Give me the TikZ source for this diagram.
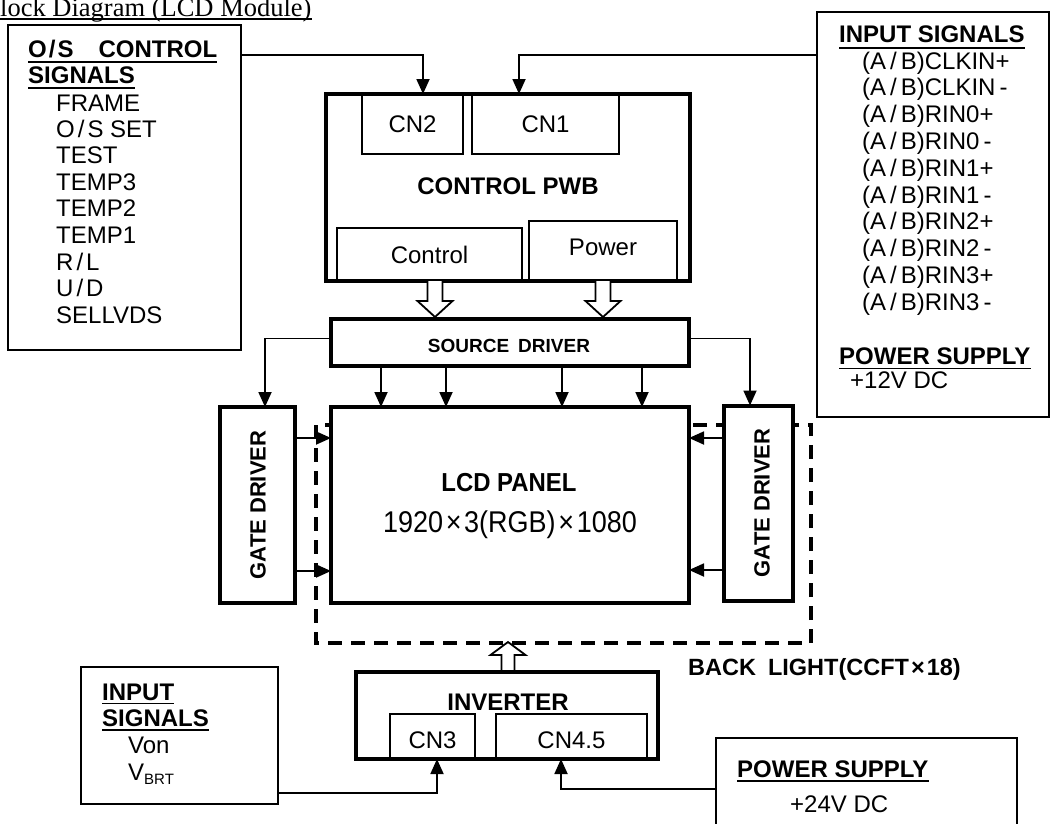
\documentclass[tikz,border=0pt]{standalone}
\usepackage{fontspec}
\setmainfont{Liberation Sans}
\newfontfamily\serifttl{Liberation Serif}
\usetikzlibrary{arrows.meta,calc}
\newcommand\fsz[1]{\fontsize{#1pt}{#1pt}\selectfont}
\newcommand\slsp{\hspace{3pt}/\hspace{3pt}}
\newcommand\abpre{(A\hspace{4pt}/\hspace{4pt}B)}
\begin{document}
\begin{tikzpicture}[x=1pt,y=-1pt,
  thinbox/.style={draw, line width=1.8pt, inner sep=0, outer sep=0},
  thickbox/.style={draw, line width=4pt, inner sep=0, outer sep=0, fill=white},
  conn/.style={line width=1.8pt, -{Triangle[length=15pt,width=13pt]}},
  lbl/.style={inner sep=0, anchor=base west, font=\fsz{24}},
  blbl/.style={inner sep=0, anchor=base west, font=\fsz{24}\bfseries},
  ctext/.style={inner sep=0, font=\fsz{24}},
  ul/.style={line width=1.6pt},
  hollow/.style={draw, line width=1.8pt, fill=white, line join=miter},
  backlight/.style={draw, line width=3.5pt, dash pattern=on 14pt off 9pt}]
\useasboundingbox (0,0) rectangle (1051,823);

% title
\node[inner sep=0, anchor=base west, font=\serifttl\fsz{26.5}] (title) at (0,16) {lock Diagram (LCD Module)};
\draw[line width=1.4pt] ([yshift=-3pt]title.base west) -- ([yshift=-3pt]title.base east);

% helper coordinates
\coordinate (yA) at (0,55);
\coordinate (yB) at (0,338.5);
\coordinate (yC) at (0,793);
\coordinate (yD) at (0,789);

% O/S control signals box
\node[thinbox, minimum width=233, minimum height=325] (os) at (124.5,187.5) {};
\node[blbl] (osh1) at (28,57) {O\hspace{2pt}/\hspace{2pt}S\hspace{25pt}CONTROL};
\draw[ul] ([yshift=-5pt]osh1.base west) -- ([yshift=-5pt]osh1.base east);
\node[blbl] (osh2) at (28,83) {SIGNALS};
\draw[ul] ([yshift=-5pt]osh2.base west) -- ([yshift=-5pt]osh2.base east);
\node[lbl] (os1) at (56,111) {FRAME};
\node[lbl] (os2) at (56,137) {O\slsp S SET};
\node[lbl] (os3) at (56,163.5) {TEST};
\node[lbl] (os4) at (56,190) {TEMP3};
\node[lbl] (os5) at (56,216.5) {TEMP2};
\node[lbl] (os6) at (56,243) {TEMP1};
\node[lbl] (os7) at (56,270) {R\slsp L};
\node[lbl] (os8) at (56,296.5) {U\slsp D};
\node[lbl] (os9) at (56,323) {SELLVDS};

% input signals box (right)
\node[thinbox, minimum width=232, minimum height=405] (inp) at (933,214.5) {};
\node[blbl] (inh) at (839,42) {INPUT SIGNALS};
\draw[ul] ([yshift=-6pt]inh.base west) -- ([yshift=-6pt]inh.base east);
\node[lbl] (in1) at (862,69) {\abpre CLKIN+};
\node[lbl] (in2) at (862,95.8) {\abpre CLKIN\,-};
\node[lbl] (in3) at (862,122.6) {\abpre RIN0+};
\node[lbl] (in4) at (862,149.4) {\abpre RIN0\,-};
\node[lbl] (in5) at (862,176.2) {\abpre RIN1+};
\node[lbl] (in6) at (862,203) {\abpre RIN1\,-};
\node[lbl] (in7) at (862,229.8) {\abpre RIN2+};
\node[lbl] (in8) at (862,256.6) {\abpre RIN2\,-};
\node[lbl] (in9) at (862,283.4) {\abpre RIN3+};
\node[lbl] (in10) at (862,310.2) {\abpre RIN3\,-};
\node[blbl] (psh) at (839,364) {POWER SUPPLY};
\draw[ul] ([yshift=-4.5pt]psh.base west) -- ([yshift=-4.5pt]psh.base east);
\node[lbl] (ps12) at (850,388) {+12V DC};

% control PWB
\node[thickbox, minimum width=364, minimum height=187] (pwb) at (508,187.5) {};
\node[thinbox, minimum width=101, minimum height=60] (cn2) at (412.5,124) {};
\node[ctext] (cn2t) at (412.5,124) {CN2};
\node[thinbox, minimum width=147, minimum height=60] (cn1) at (545.5,124) {};
\node[ctext] (cn1t) at (545.5,124) {CN1};
\node[ctext, font=\fsz{24}\bfseries] (pwbt) at (508,186) {CONTROL PWB};
\node[thinbox, minimum width=185, minimum height=53] (ctrl) at (429.5,254.5) {};
\node[ctext] (ctrlt) at (429.5,255) {Control};
\node[thinbox, minimum width=148, minimum height=60] (pwr) at (603,251) {};
\node[ctext] (pwrt) at (603,247) {Power};
\draw[line width=4pt] (pwb.south west) -- (pwb.south east);

% connectors into CN2 / CN1
\draw[conn] (os.east |- yA) -| ([xshift=10.5pt]cn2.north);
\draw[conn] (inp.west |- yA) -| ([xshift=-26.5pt]cn1.north);

% hollow arrows control/power -> source driver
\draw[hollow] (427.5,281) -- (427.5,301) -- (417.5,301) -- (435,317) -- (452.5,301) -- (442.5,301) -- (442.5,281);
\draw[hollow] (595.5,281) -- (595.5,301) -- (585.5,301) -- (603,317) -- (620.5,301) -- (610.5,301) -- (610.5,281);

% back light (dashed) behind panel
\draw[backlight] (316,425) rectangle (811,643);

% source driver
\node[thickbox, minimum width=358, minimum height=47] (src) at (510,342) {};
\node[inner sep=0, font=\fsz{19}\bfseries] (srct) at (509,346) {SOURCE\hspace{9pt}DRIVER};

% gate drivers and LCD
\node[thickbox, minimum width=75.5, minimum height=196] (gl) at (257.25,505) {};
\node[inner sep=0, rotate=90, font=\fsz{22}\bfseries] (glt) at (258,505) {GATE DRIVER};
\node[thickbox, minimum width=69, minimum height=195] (gr) at (758,503) {};
\node[inner sep=0, rotate=90, font=\fsz{22}\bfseries] (grt) at (762,503) {GATE DRIVER};
\node[thickbox, minimum width=358, minimum height=196] (lcd) at (510,505) {};
\node[inner sep=0, xscale=0.92, font=\fsz{26}\bfseries] (lcdt1) at (509,483) {LCD PANEL};
\node[inner sep=0, xscale=0.9, font=\fsz{30}] (lcdt2) at (510,525) {1920\hspace{3pt}×\hspace{3pt}3(RGB)\hspace{3pt}×\hspace{3pt}1080};

% source driver connections
\draw[conn] (src.west |- yB) -| ([xshift=7.75pt]gl.north);
\draw[conn] (src.east |- yB) -| ([xshift=-8pt]gr.north);
\foreach \d in {-129,-64,52,132}
  \draw[conn] ([xshift=\d pt]src.south) -- ([xshift=\d pt]lcd.north);

% gate -> panel
\draw[conn] ([yshift=67pt]gl.east) -- ([yshift=67pt]gl.east -| lcd.west);
\draw[conn] ([yshift=-66pt]gl.east) -- ([yshift=-66pt]gl.east -| lcd.west);
\draw[conn] ([yshift=65pt]gr.west) -- ([yshift=65pt]gr.west -| lcd.east);
\draw[conn] ([yshift=-67pt]gr.west) -- ([yshift=-67pt]gr.west -| lcd.east);

% back light label
\node[inner sep=0, anchor=base west, font=\fsz{23.5}\bfseries] (blt) at (688,675) {BACK\hspace{12pt}LIGHT(CCFT\hspace{2pt}×\hspace{2pt}18)};

% inverter
\draw[hollow] (501.5,672) -- (501.5,655) -- (490.5,655) -- (508,642) -- (525.5,655) -- (514.5,655) -- (514.5,672);
\node[thickbox, minimum width=302, minimum height=87] (inv) at (507,715.5) {};
\node[ctext, font=\fsz{24}\bfseries] (invt) at (508,702) {INVERTER};
\node[thinbox, minimum width=85, minimum height=45] (cn3) at (432.5,736.5) {};
\node[ctext] (cn3t) at (432.5,740) {CN3};
\node[thinbox, minimum width=151, minimum height=45] (cn45) at (571.5,736.5) {};
\node[ctext] (cn45t) at (571.5,740) {CN4.5};
\draw[line width=4pt] (inv.south west) -- (inv.south east);

% input signals (bottom left)
\node[thinbox, minimum width=197, minimum height=137] (inl) at (179.5,735.5) {};
\node[blbl] (ilh1) at (102,700) {INPUT};
\draw[ul] ([yshift=-3.5pt]ilh1.base west) -- ([yshift=-3.5pt]ilh1.base east);
\node[blbl] (ilh2) at (102,726) {SIGNALS};
\draw[ul] ([yshift=-4pt]ilh2.base west) -- ([yshift=-4pt]ilh2.base east);
\node[lbl] (il1) at (128,753) {Von};
\node[lbl] (il2) at (128,780) {V\raisebox{-4pt}{\fsz{15}BRT}};

% power supply (bottom right)
\node[thinbox, minimum width=301, minimum height=96] (ps) at (866.5,786) {};
\node[blbl] (ps2h) at (737,777) {POWER SUPPLY};
\draw[ul] ([yshift=-4pt]ps2h.base west) -- ([yshift=-4pt]ps2h.base east);
\node[lbl] (ps24) at (790,812) {+24V DC};

% inverter connections
\draw[conn] (inl.east |- yC) -| ([xshift=4.5pt]cn3.south);
\draw[conn] (ps.west |- yD) -| ([xshift=-10.5pt]cn45.south);
\end{tikzpicture}
\end{document}
